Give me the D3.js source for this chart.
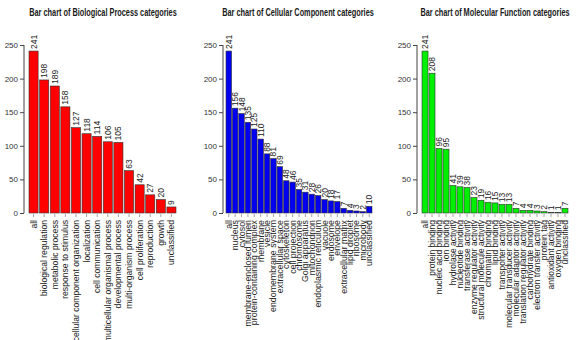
<!DOCTYPE html>
<html>
<head>
<meta charset="utf-8">
<script src="https://cdn.jsdelivr.net/npm/d3@7"></script>
<style>
body{margin:0;background:#fff;}
svg{display:block;font-family:"Liberation Sans",Arial,sans-serif;}
</style>
</head>
<body>
<script>
var width=582;
var height=340;

var bpCategories=["all","biological regulation","metabolic process","response to stimulus","cellular component organization","localization","cell communication","multicellular organismal process","developmental process","multi-organism process","cell proliferation","reproduction","growth","unclassified"];
var bpValues=[241,198,189,158,127,118,114,106,105,63,42,27,20,9];

var ccCategories=["all","nucleus","cytosol","membrane-enclosed lumen","protein-containing complex","membrane","vesicle","endomembrane system","extracellular space","cytoskeleton","cell projection","chromosome","Golgi apparatus","mitochondrion","endoplasmic reticulum","vacuole","endosome","envelope","extracellular matrix","lipid droplet","ribosome","microbody","unclassified"];
var ccValues=[241,156,148,135,125,110,88,81,69,48,46,35,31,28,26,20,18,17,7,4,3,2,10];

var mfCategories=["all","protein binding","nucleic acid binding","ion binding","hydrolase activity","nucleotide binding","transferase activity","enzyme regulator activity","structural molecule activity","chromatin binding","lipid binding","transporter activity","molecular transducer activity","molecular adaptor activity","translation regulator activity","carbohydrate binding","electron transfer activity","protein tag","antioxidant activity","oxygen binding","unclassified"];
var mfValues=[241,208,96,95,41,39,38,23,19,16,15,13,13,7,4,4,3,2,1,1,7];

var yTicks=[0,50,100,150,200,250];

var panels=[
    {title:"Bar chart of Biological Process categories",cats:bpCategories,vals:bpValues,color:"#ff0000",axisX:24,x0:29,x1:176,titleX:103,labelSize:8.6},
    {title:"Bar chart of Cellular Component categories",cats:ccCategories,vals:ccValues,color:"#0000ee",axisX:223,x0:226,x1:372,titleX:298,labelSize:8.8},
    {title:"Bar chart of Molecular Function categories",cats:mfCategories,vals:mfValues,color:"#00ee00",axisX:417,x0:422,x1:568,titleX:495,labelSize:8.5}
];

var svg=d3.select("body").append("svg").attr("width",width).attr("height",height);

var y=d3.scaleLinear().domain([0,250]).range([213,45]);

panels.forEach(function(p){
    var g=svg.append("g");
    var x=d3.scaleBand().domain(p.cats).range([p.x0,p.x1]).paddingInner(0.14).paddingOuter(0);

    // title is drawn condensed like the original
    g.append("text")
        .attr("transform","translate("+p.titleX+",15.5) scale(0.72,1)")
        .attr("text-anchor","middle")
        .attr("font-size","10.2px")
        .attr("font-weight","bold")
        .attr("fill","#1a1a1a")
        .text(p.title);

    var yAxis=g.append("g")
        .attr("transform","translate("+p.axisX+",0)")
        .call(d3.axisLeft(y).tickValues(yTicks).tickSize(4).tickPadding(2));
    yAxis.select(".domain").attr("stroke","#444").attr("d","M0,"+y(0)+"V"+y(250));
    yAxis.selectAll(".tick line").attr("stroke","#444");
    yAxis.selectAll(".tick text").attr("font-size","8px").attr("fill","#333").attr("font-family","Liberation Sans, Arial, sans-serif");

    g.selectAll(".bar").data(p.vals).enter().append("rect")
        .attr("class","bar")
        .attr("x",function(d,i){return x(p.cats[i]);})
        .attr("y",function(d){return y(d);})
        .attr("width",x.bandwidth())
        .attr("height",function(d){return y(0)-y(d);})
        .attr("fill",p.color)
        .attr("stroke","#333")
        .attr("stroke-width",0.6);

    g.selectAll(".val").data(p.vals).enter().append("text")
        .attr("class","val")
        .attr("transform",function(d,i){
            var cx=x(p.cats[i])+x.bandwidth()/2+3;
            return "translate("+cx+","+(y(d)-2)+") rotate(-90)";
        })
        .attr("font-size","8.5px")
        .attr("fill","#222")
        .text(function(d){return d;});

    g.selectAll(".tk").data(p.cats).enter().append("line")
        .attr("class","tk")
        .attr("x1",function(d){return x(d)+x.bandwidth()/2;})
        .attr("x2",function(d){return x(d)+x.bandwidth()/2;})
        .attr("y1",y(0)+1)
        .attr("y2",y(0)+4)
        .attr("stroke","#666")
        .attr("stroke-width",0.6);

    g.selectAll(".cat").data(p.cats).enter().append("text")
        .attr("class","cat")
        .attr("transform",function(d){
            var cx=x(d)+x.bandwidth()/2+3;
            return "translate("+cx+",220) rotate(-90)";
        })
        .attr("text-anchor","end")
        .attr("font-size",p.labelSize+"px")
        .attr("fill","#222")
        .text(function(d){return d;});
});
</script>
</body>
</html>
